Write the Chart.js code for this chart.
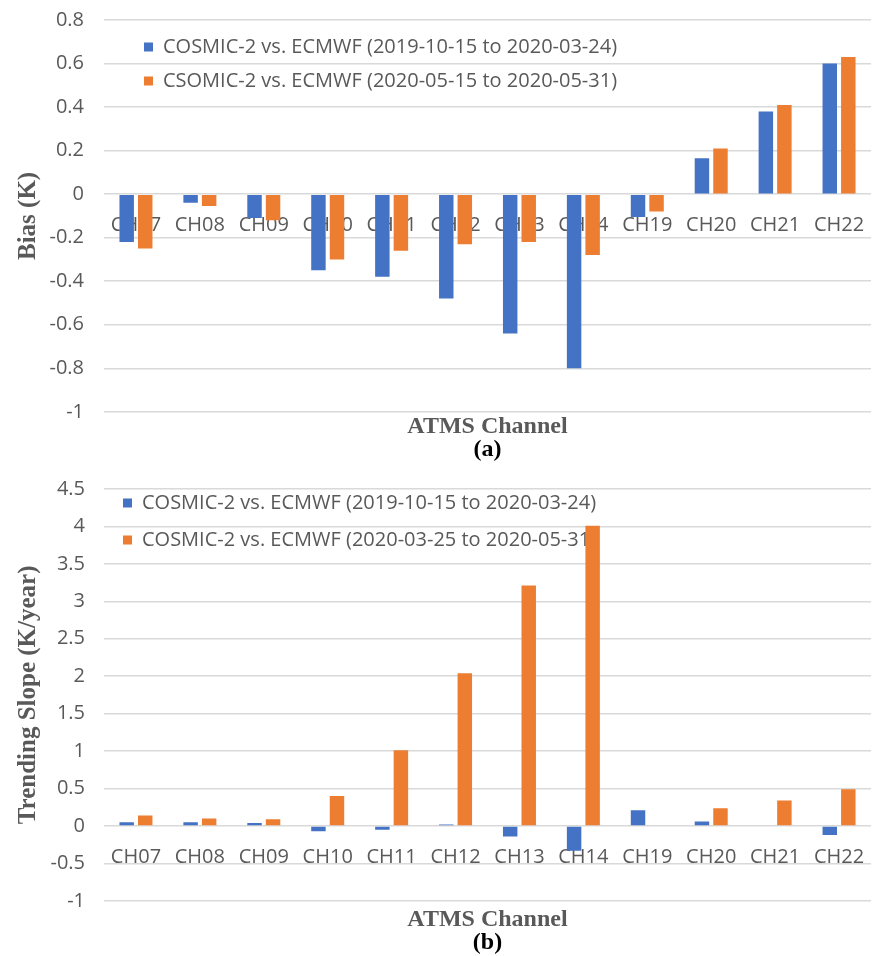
<!DOCTYPE html>
<html>
<head>
<meta charset="utf-8">
<script src="https://cdn.jsdelivr.net/npm/chart.js@4.4.0/dist/chart.umd.min.js"></script>
<style>
  body { margin: 0; background: #fff; }
  canvas { display: block; }
</style>
</head>
<body>
<canvas id="biasChart" width="878" height="470"></canvas>
<canvas id="slopeChart" width="878" height="486"></canvas>
<script>
const channels = ['CH07', 'CH08', 'CH09', 'CH10', 'CH11', 'CH12', 'CH13', 'CH14', 'CH19', 'CH20', 'CH21', 'CH22'];

// (a) bias
const biasLabels = ['COSMIC-2 vs. ECMWF (2019-10-15 to 2020-03-24)', 'CSOMIC-2 vs. ECMWF (2020-05-15 to 2020-05-31)'];
const biasEarly = [-0.22, -0.04, -0.11, -0.35, -0.38, -0.48, -0.64, -0.80, -0.105, 0.165, 0.38, 0.60];
const biasLate = [-0.25, -0.055, -0.12, -0.30, -0.26, -0.23, -0.22, -0.28, -0.08, 0.21, 0.41, 0.63];

// (b) trending slope
const slopeLabels = ['COSMIC-2 vs. ECMWF (2019-10-15 to 2020-03-24)', 'COSMIC-2 vs. ECMWF (2020-03-25 to 2020-05-31)'];
const slopeEarly = [0.05, 0.05, 0.04, -0.07, -0.05, 0.02, -0.14, -0.33, 0.21, 0.06, 0, -0.12];
const slopeLate = [0.14, 0.10, 0.09, 0.40, 1.01, 2.04, 3.21, 4.01, 0, 0.235, 0.34, 0.49];

const BLUE = '#4472C4';
const ORANGE = '#ED7D31';
const GREY = '#595959';

Chart.defaults.font.family = "'Open Sans', sans-serif";
Chart.defaults.color = GREY;

// put the legend inside the plot, like Excel does
const legendSpot = {
  id: 'legendSpot',
  afterLayout(chart, args, opts) {
    const lg = chart.legend;
    lg.left = opts.x;
    lg.top = opts.y;
    lg.right = lg.left + lg.width;
    lg.bottom = lg.top + lg.height;
  }
};

function makeChart(id, o) {
  return new Chart(document.getElementById(id), {
    type: 'bar',
    data: {
      labels: channels,
      datasets: [
        { label: o.names[0], data: o.a, backgroundColor: BLUE, borderWidth: 0 },
        { label: o.names[1], data: o.b, backgroundColor: ORANGE, borderWidth: 0 }
      ]
    },
    plugins: [legendSpot],
    options: {
      responsive: false,
      animation: false,
      categoryPercentage: 0.58,
      barPercentage: 0.78,
      layout: { padding: { left: 12, right: 7, top: 0, bottom: 0 } },
      plugins: {
        legend: {
          position: 'chartArea',
          align: 'start',
          labels: { boxWidth: 9, boxHeight: 9, padding: o.legendGap, font: { size: 20 }, color: GREY }
        },
        legendSpot: o.legendAt,
        tooltip: { enabled: false },
        subtitle: {
          display: true,
          position: 'bottom',
          fullSize: false,
          text: 'ATMS Channel',
          color: GREY,
          font: { family: "'Liberation Serif', serif", size: 24, weight: 'bold', lineHeight: 0.8 },
          padding: { top: o.subPad, bottom: 2 }
        },
        title: {
          display: true,
          position: 'bottom',
          fullSize: false,
          text: o.tag,
          color: '#000',
          font: { family: "'Liberation Serif', serif", size: 24, weight: 'bold', lineHeight: 1 },
          padding: { top: 0, bottom: o.tagPad }
        }
      },
      scales: {
        x: {
          position: { y: 0 },
          z: 1,
          grid: { display: false },
          border: { display: false },
          ticks: { font: { size: 20 }, color: GREY, padding: 11, maxRotation: 0, autoSkip: false }
        },
        y: {
          min: o.min,
          max: o.max,
          afterFit: scale => { scale.width = 92; },
          grid: { color: '#d9d9d9', lineWidth: 1.5, drawTicks: false },
          border: { display: false },
          ticks: {
            stepSize: o.step,
            padding: o.tickPad,
            font: { size: 20, lineHeight: 0 },
            color: GREY,
            callback: v => String(Math.round(v * 10) / 10)
          },
          title: {
            display: true,
            text: o.yTitle,
            color: GREY,
            font: { family: "'Liberation Serif', serif", size: 25, weight: 'bold' },
            padding: 2
          }
        }
      }
    }
  });
}

makeChart('biasChart', {
  names: biasLabels, a: biasEarly, b: biasLate,
  min: -1, max: 0.8, step: 0.2, yTitle: 'Bias (K)', tag: '(a)',
  tickPad: 20, subPad: 5, tagPad: 8,
  legendGap: 14, legendAt: { x: 130, y: 23 }
});

makeChart('slopeChart', {
  names: slopeLabels, a: slopeEarly, b: slopeLate,
  min: -1, max: 4.5, step: 0.5, yTitle: 'Trending Slope (K/year)', tag: '(b)',
  tickPad: 19, subPad: 9, tagPad: 1,
  legendGap: 17, legendAt: { x: 106, y: 6 }
});
</script>
</body>
</html>
